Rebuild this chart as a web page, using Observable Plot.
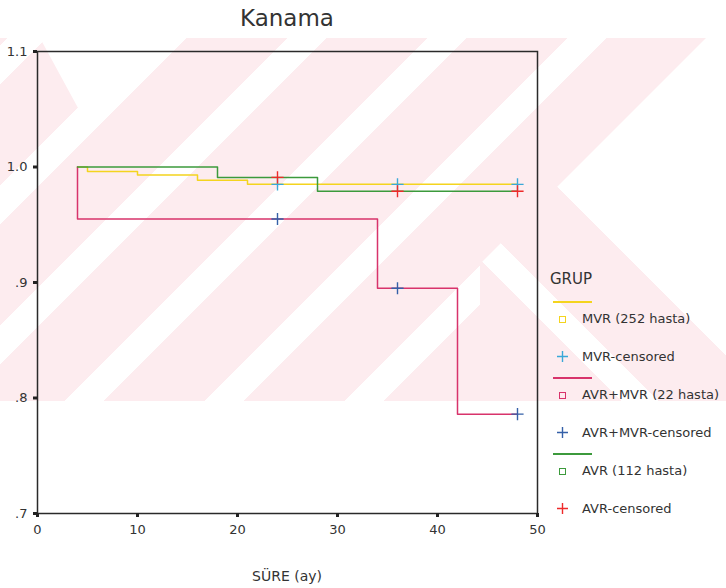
<!DOCTYPE html>
<html>
<head>
<meta charset="utf-8">
<script src="https://cdn.jsdelivr.net/npm/d3@7"></script>
<script src="https://cdn.jsdelivr.net/npm/@observablehq/plot@0.6"></script>
<style>
  body { margin: 0; background: #fff; font-family: "DejaVu Sans", sans-serif; }
  #wrap { position: relative; width: 726px; height: 588px; overflow: hidden; background: #fff; }
  #wm { position: absolute; left: 0; top: 38px; width: 726px; height: 363px;
        background: repeating-linear-gradient(135deg, #fdecef 0 5px, #fff 5px 33px, #fdecef 33px 99px); }
  #wmV { position: absolute; left: 0; top: 38px; width: 200px; height: 100px; background: #fff;
        clip-path: polygon(40px 0, 90px 92px, 183px 0); }
  #wmR { position: absolute; left: 480px; top: 38px; width: 246px; height: 363px;
        background: linear-gradient(45deg, #fdecef 0 100px, #fff 100px 126px, #fdecef 126px 205.8px, #fff 205.8px);
        clip-path: polygon(226px 0, 246px 0, 246px 363px, 0 363px, 0 226px); }
  #chart { position: absolute; left: 0; top: 0; }
  #title { position: absolute; left: 0; width: 574px; top: 5px; text-align: center;
           font-size: 23px; color: #333; }
  #xlabel { position: absolute; left: 0; width: 574px; top: 568px; text-align: center;
           font-size: 14px; color: #333; }
  #legend { position: absolute; left: 0; top: 0; width: 726px; height: 588px; color: #333; font-size: 13px; }
  #legend .hdr { position: absolute; left: 550px; top: 270px; font-size: 15px; }
  #legend .ln { position: absolute; left: 553px; width: 39px; height: 1.6px; }
  #legend .sq { position: absolute; left: 559px; width: 5px; height: 5px; border: 1.4px solid; }
  #legend .pl { position: absolute; left: 556px; width: 13px; height: 13px; }
  #legend .tx { position: absolute; left: 582px; line-height: 16px; white-space: nowrap; }
</style>
</head>
<body>
<div id="wrap">
  <div id="wm"></div>
  <div id="wmV"></div>
  <div id="wmR"></div>
  <div id="chart"></div>
  <div id="title">Kanama</div>
  <div id="xlabel">SÜRE (ay)</div>
  <div id="legend"></div>
</div>
<script>
// ---- data ----
const groupNames = ["MVR (252 hasta)", "AVR+MVR (22 hasta)", "AVR (112 hasta)"];
const censorNames = ["MVR-censored", "AVR+MVR-censored", "AVR-censored"];
const lineColors = ["#f4d41e", "#d8336b", "#3c9a3c"];
const censorColors = ["#3aa8d8", "#3560a8", "#ee2a2a"];

const mvrTime = [4, 5, 10, 16, 21, 48];
const mvrSurv = [1.0, 0.996, 0.993, 0.9885, 0.985, 0.985];
const avrMvrTime = [4, 4, 34, 42, 48];
const avrMvrSurv = [1.0, 0.955, 0.895, 0.786, 0.786];
const avrTime = [4, 18, 28, 48];
const avrSurv = [1.0, 0.991, 0.979, 0.979];

const censorTime = [24, 36, 48];
const mvrCensor = [0.985, 0.985, 0.985];
const avrMvrCensor = [0.955, 0.895, 0.786];
const avrCensor = [0.991, 0.979, 0.979];

const xTicks = [0, 10, 20, 30, 40, 50];
const yTicks = [0.7, 0.8, 0.9, 1.0, 1.1];
const yTickLabels = [".7", ".8", ".9", "1.0", "1.1"];

// ---- tables ----
const toRows = (ts, ss, g) => ts.map((t, i) => ({t, s: ss[i], g}));
const curves = [
  toRows(mvrTime, mvrSurv, 0),
  toRows(avrMvrTime, avrMvrSurv, 1),
  toRows(avrTime, avrSurv, 2)
];
const censors = [
  toRows(censorTime, mvrCensor, 0),
  toRows(censorTime, avrMvrCensor, 1),
  toRows(censorTime, avrCensor, 2)
];

const marks = [];
curves.forEach((rows, i) => {
  marks.push(Plot.line(rows, {x: "t", y: "s", curve: "step-after", stroke: lineColors[i], strokeWidth: 1.5}));
});
censors.forEach((rows, i) => {
  marks.push(Plot.dot(rows, {x: "t", y: "s", symbol: "plus", r: 4, stroke: censorColors[i], strokeWidth: 1.4}));
});
marks.push(Plot.frame({stroke: "#2a2a2a", strokeWidth: 1.5}));
marks.push(Plot.axisX({ticks: xTicks, tickSize: 4, strokeWidth: 3, tickPadding: 7, stroke: "#222", label: null}));
marks.push(Plot.axisY({ticks: yTicks, tickSize: 4, strokeWidth: 3, tickPadding: 6, stroke: "#222",
  tickFormat: d => yTickLabels[yTicks.findIndex(v => Math.abs(v - d) < 1e-9)], label: null}));

const chart = Plot.plot({
  width: 726,
  height: 588,
  marginLeft: 37,
  marginRight: 189,
  marginTop: 51,
  marginBottom: 75,
  style: {background: "transparent", fontFamily: "DejaVu Sans, sans-serif", fontSize: "13px", color: "#333"},
  x: {domain: [0, 50]},
  y: {domain: [0.7, 1.1]},
  marks
});
document.getElementById("chart").appendChild(chart);

// ---- legend ----
const legend = document.getElementById("legend");
const hdr = document.createElement("div");
hdr.className = "hdr"; hdr.textContent = "GRUP";
legend.appendChild(hdr);
groupNames.forEach((name, i) => {
  const base = 301 + 76 * i;
  const ln = document.createElement("div");
  ln.className = "ln"; ln.style.top = base + "px"; ln.style.background = lineColors[i];
  legend.appendChild(ln);
  const sq = document.createElement("div");
  sq.className = "sq"; sq.style.top = (base + 15) + "px"; sq.style.borderColor = lineColors[i];
  legend.appendChild(sq);
  const tx = document.createElement("div");
  tx.className = "tx"; tx.style.top = (base + 10) + "px"; tx.textContent = name;
  legend.appendChild(tx);
  const pl = document.createElementNS("http://www.w3.org/2000/svg", "svg");
  pl.setAttribute("class", "pl"); pl.style.top = (base + 49) + "px";
  pl.setAttribute("viewBox", "0 0 13 13");
  pl.innerHTML = `<path d="M6.5 1V12M1 6.5H12" stroke="${censorColors[i]}" stroke-width="1.4" fill="none"/>`;
  legend.appendChild(pl);
  const tx2 = document.createElement("div");
  tx2.className = "tx"; tx2.style.top = (base + 48) + "px"; tx2.textContent = censorNames[i];
  legend.appendChild(tx2);
});
</script>
</body>
</html>
